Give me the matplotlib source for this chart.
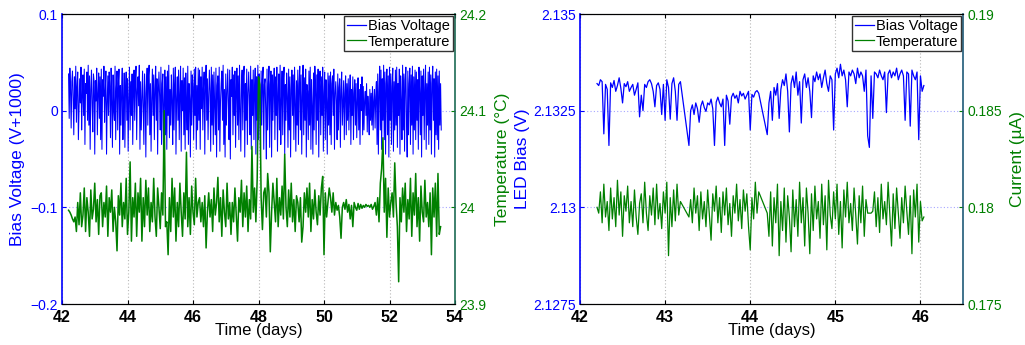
import numpy as np
import matplotlib
matplotlib.use("Agg")
import matplotlib.pyplot as plt
from matplotlib.lines import Line2D

plt.rcParams['font.family'] = ['Liberation Sans', 'DejaVu Sans']

# ---------------- Left panel data ----------------
# sampling of the left-panel record (days)
left_start = 42.2
bias_step = 0.02
temp_step = 0.04
# bias voltage, units of mV (V+1000)
bias_left_mV = [
    38,-8,44,22,-18,30,41,12,-25,35,2,46,-12,25,40,-30,0,33,8,45,-20,15,37,-5,43,
    -35,28,18,40,-10,47,-15,36,-40,22,42,5,-22,38,30,-45,31,10,44,-25,18,39,-8,35,-30,
    43,-40,32,15,46,-12,20,41,-45,8,36,-5,40,25,-28,44,10,-38,37,0,-10,46,-30,23,41,
    -20,28,43,-45,26,-15,18,44,-30,10,39,-38,22,40,-10,33,-42,12,45,-20,30,-5,38,-35,18,
    42,-10,32,46,-30,20,35,5,47,-40,30,-20,10,41,0,-35,38,18,-48,27,44,-15,36,47,-25,
    28,-42,12,43,-5,37,-30,22,46,-10,33,-45,18,40,15,-20,45,-35,28,38,-48,8,42,-25,35,
    -40,41,-5,47,-28,22,-15,37,10,-35,44,-20,27,45,-45,13,35,-10,42,-30,18,46,-42,31,0,
    44,-25,34,-40,39,5,-20,46,-35,28,12,-48,41,-15,37,25,-30,43,-5,45,-40,26,-20,44,-10,
    42,-40,35,2,45,-20,24,40,-45,28,47,-10,33,-30,15,42,20,-42,45,-15,37,-35,40,5,-25,
    44,-48,26,36,-20,45,-42,10,28,41,-10,47,-35,22,-48,38,-15,18,43,10,-30,42,-50,32,15,
    45,-25,37,-5,41,-38,18,44,-15,36,-30,47,5,-42,27,42,-20,35,46,-48,28,-10,43,-35,18,
    40,15,-25,46,-40,32,-5,42,-30,22,44,-45,35,-10,47,-30,38,20,-48,41,-15,33,45,-40,27,
    33,0,-50,43,-20,28,46,-38,27,41,-48,37,-10,23,44,-30,35,-5,45,-42,18,38,-20,47,-35,
    10,41,-25,32,45,-45,27,-10,39,15,-38,43,-20,35,-48,22,42,-5,37,-30,45,10,-42,31,-15,
    42,-35,28,46,-20,37,-45,15,47,-25,34,-10,43,-48,27,20,-30,41,-15,45,-40,32,5,-45,39,
    -20,46,24,-35,37,-10,43,-48,28,41,-25,35,-5,45,-42,18,40,-30,32,10,-45,39,-15,36,-25,
    40,-35,28,36,-5,43,-40,18,30,10,-30,38,-20,24,33,-38,22,40,-15,10,31,-30,18,36,-25,
    28,-10,33,-20,15,37,-35,22,-5,35,-30,18,32,-15,28,-28,10,34,-20,22,-35,27,0,35,-25,
    25,-20,10,20,-5,28,-22,15,0,-25,22,-10,18,-15,25,-20,10,22,-18,15,
    30,-35,38,-45,20,46,-20,42,-40,33,-10,47,-30,40,-45,28,43,-25,36,-48,45,-10,38,-35,25,44,-42,30,-20,42,
    -15,45,-38,28,-5,43,-45,36,10,-30,47,-20,38,-42,32,45,-10,-48,41,-25,28,44,-35,37,-15,
    46,-45,35,-20,42,-30,40,-10,32,-40,45,20,-25,41,-48,36,-5,43,-30,23,47,-40,28,-15,40,
    -35,45,-20,37,-45,28,46,-10,33,-48,40,-25,43,-30,36,-40,41,-15,28,-20,
]
# temperature, units of mK relative to 24 degC
temp_left_mK = [
    -3,-5,-8,-12,-15,-10,-25,5,-18,15,-20,-8,20,-25,10,-5,-30,18,-12,-2,25,-15,8,-28,12,
    15,-20,5,-10,22,-30,10,-5,18,-25,0,-15,-45,12,-8,25,-20,5,-12,30,-28,-5,47,-35,10,
    -10,25,-30,15,-5,30,-35,10,-20,28,-8,20,-25,5,-15,30,-10,-30,20,0,-22,15,-8,100,-20,
    -15,-49,10,-25,30,-10,20,-35,5,-20,25,-5,-30,15,-12,57,-20,10,-28,22,-5,-18,30,-10,5,
    10,-15,5,-20,12,-42,-5,15,-10,8,-25,20,-8,5,31,-15,10,-30,18,-5,-20,25,-12,5,-28,
    5,-15,20,-8,-35,10,-5,28,-20,15,-10,22,-25,8,-12,63,-5,20,-15,30,135,127,10,-23,15,
    20,-10,35,15,-46,-5,25,5,-15,30,-20,10,-8,22,-12,55,0,-20,18,-10,25,-15,8,-25,12,
    5,-15,10,-36,-20,15,-5,20,-10,25,-25,8,-12,18,-5,-18,12,-8,20,32,-49,15,-10,5,20,
    10,-5,15,-8,5,-3,2,-10,-32,0,5,-2,8,-5,3,-12,2,-20,5,0,-3,4,-2,3,-1,
    2,0,3,1,2,0,3,-2,1,5,-8,10,-15,25,40,72,-5,30,-31,20,-10,5,15,-10,46,
    5,-20,-77,10,-15,20,-5,25,-25,8,-12,30,-30,15,-8,35,-20,10,-35,22,-5,-15,28,-10,5,
    -20,15,-49,20,-10,25,-30,35,-28,-20,
]

# ---------------- Right panel data ----------------
# recording segments (start day, end day) with 0.02-day sampling
right_segments = [(42.20, 43.18), (43.28, 44.10), (44.20, 46.04)]
right_step = 0.02
# LED bias, units of 10 uV above 2.13 V
led_bias_10uV = [
    320,315,330,325,190,318,305,160,322,310,
    328,300,315,335,308,270,320,312,325,300,
    310,318,290,305,322,234,290,250,318,310,
    325,330,320,300,260,315,322,305,240,318,
    225,330,310,228,320,335,300,225,318,325,
    160,250,265,240,270,255,220,262,275,258,
    248,270,265,280,255,160,272,285,270,260,
    280,160,290,275,215,285,295,282,290,270,
    300,288,295,280,290,300,200,292,285,298,
    302,295,
    188,270,300,225,310,290,320,230,305,330,
    315,345,300,195,320,340,310,350,290,325,
    218,330,345,310,335,300,232,340,325,350,
    330,345,310,335,355,320,300,340,330,200,
    345,360,335,370,340,355,330,260,350,340,
    355,345,320,360,335,350,340,300,355,185,
    155,340,230,350,345,335,355,340,330,350,
    245,345,355,335,350,340,360,330,345,355,
    340,225,350,345,210,355,340,330,350,175,
    340,300,315,
]
# current, units of 0.1 nA relative to 0.18 uA
current_01nA = [
    0,-3,8,-8,12,-5,3,-12,10,-6,
    5,-10,14,-4,8,-15,6,-2,11,-8,
    3,-10,9,-5,-14,2,7,-8,13,-3,
    -12,6,-4,10,-9,12,-6,2,-11,8,
    -3,13,-25,5,-10,9,-7,12,-4,3,
    -5,4,-8,10,-3,6,-12,8,-6,3,
    -10,9,-4,-17,7,-2,11,-8,5,-13,
    8,-4,10,-9,2,-15,6,-3,12,-7,
    4,-11,9,-2,7,-10,-22,5,-6,13,
    -3,8,
    -3,-15,8,-20,5,-8,12,-25,3,-12,
    10,-18,6,-5,-23,9,-10,4,-15,13,
    -8,5,-20,10,-3,-24,7,-12,11,-6,
    3,-16,12,-9,6,-22,14,-4,-11,8,
    -6,12,-14,3,-21,9,-5,13,-8,2,
    -12,10,-4,-19,6,-8,11,-15,4,-3,
    -3,-3,-2,8,-10,5,-13,12,-6,3,
    -9,13,-4,-20,7,-11,10,-3,-16,5,
    -8,11,-2,-14,6,-24,9,-5,12,-18,
    3,-7,-5,
]

legend_labels = ["Bias Voltage", "Temperature"]

# ---------------- derived arrays ----------------
t_bias = left_start + bias_step * np.arange(len(bias_left_mV))
t_temp = left_start + temp_step * np.arange(len(temp_left_mK))
bias_left = np.array(bias_left_mV) / 1000.0
temp_left = 24.0 + np.array(temp_left_mK) / 1000.0

t_right = np.concatenate([np.arange(a, b + right_step / 2, right_step) for a, b in right_segments])
led_bias = 2.13 + np.array(led_bias_10uV) * 1e-5
current = 0.18 + np.array(current_01nA) * 1e-4

BLUE = (0, 0, 1)
GREEN = (0, 0.5, 0)

fig = plt.figure(figsize=(10.25, 3.45), dpi=100)


def make_panel(rect, t1, y1, t2, y2, xlim, xticks, ylim1, yticks1, ylim2, yticks2,
               ylab1, ylab2, yfmt1, yfmt2, right_spine_color, lw1, lw2, lpad1, lpad2):
    ax = fig.add_axes(rect)
    ax2 = ax.twinx()
    ax.plot(t1, y1, color=BLUE, lw=lw1)
    ax2.plot(t2, y2, color=GREEN, lw=lw2)
    ax.set_xlim(*xlim)
    ax.set_ylim(*ylim1)
    ax2.set_ylim(*ylim2)
    ax.set_xticks(xticks)
    ax.set_yticks(yticks1)
    ax2.set_yticks(yticks2)
    ax.set_yticklabels([yfmt1(v) for v in yticks1])
    ax2.set_yticklabels([yfmt2(v) for v in yticks2])
    ax.set_xticklabels([str(v) for v in xticks], fontweight='bold', fontsize=11.5)
    # grid
    for xv in xticks:
        ax.axvline(xv, color=(0.72, 0.72, 0.72), ls=(0, (1, 2)), lw=0.8, zorder=0)
    for yv in yticks1:
        ax.axhline(yv, color=(0.65, 0.65, 1.0), ls=(0, (1, 2)), lw=0.8, zorder=0)
    ax.tick_params(axis='x', direction='in', length=3, colors='black', pad=4, top=True)
    ax.tick_params(axis='y', direction='in', length=3, colors=BLUE, labelsize=10, pad=3)
    ax2.tick_params(axis='y', direction='in', length=3, colors=GREEN, labelsize=10, pad=3)
    ax.spines['left'].set_color(BLUE)
    ax.spines['left'].set_linewidth(1.2)
    ax.spines['right'].set_visible(False)
    ax2.spines['left'].set_visible(False)
    ax2.spines['right'].set_color(right_spine_color)
    ax2.spines['right'].set_linewidth(1.2)
    for a in (ax, ax2):
        a.spines['top'].set_color('black')
        a.spines['bottom'].set_color('black')
    ax.set_ylabel(ylab1, color=BLUE, fontsize=12.5, labelpad=lpad1)
    ax2.set_ylabel(ylab2, color=GREEN, fontsize=12.5, labelpad=lpad2)
    ax.set_xlabel("Time (days)", fontsize=12, labelpad=-1)
    handles = [Line2D([], [], color=BLUE, lw=0.9), Line2D([], [], color=GREEN, lw=0.9)]
    leg = ax2.legend(handles, legend_labels, loc='upper right', fontsize=10.5,
                     frameon=True, fancybox=False, borderaxespad=0.15,
                     handlelength=1.3, handletextpad=0.1, borderpad=0.2,
                     labelspacing=0.1)
    leg.get_frame().set_edgecolor('black')
    leg.get_frame().set_linewidth(1.0)
    return ax, ax2


make_panel([62 / 1025, 1 - 304 / 345, (455 - 62) / 1025, 290 / 345],
           t_bias, bias_left, t_temp, temp_left,
           (42, 54), [42, 44, 46, 48, 50, 52, 54],
           (-0.2, 0.1), [-0.2, -0.1, 0, 0.1],
           (23.9, 24.2), [23.9, 24.0, 24.1, 24.2],
           "Bias Voltage (V+1000)", "Temperature (°C)",
           lambda v: "0" if abs(v) < 1e-9 else ("\u22120.%d" % round(abs(v) * 10) if v < 0 else "0.%d" % round(v * 10)),
           lambda v: ("%g" % round(v, 1)),
           '#1d6b55', 0.75, 1.1, 4, 6)

make_panel([580 / 1025, 1 - 304 / 345, (963 - 580) / 1025, 290 / 345],
           t_right, led_bias, t_right, current,
           (42, 46.5), [42, 43, 44, 45, 46],
           (2.1275, 2.135), [2.1275, 2.13, 2.1325, 2.135],
           (0.175, 0.19), [0.175, 0.18, 0.185, 0.19],
           "LED Bias (V)", "Current (\u00b5A)",
           lambda v: "%g" % round(v, 4),
           lambda v: "%g" % round(v, 3),
           '#1f5a78', 0.9, 0.9, 2, 6)

fig.savefig("out.png", dpi=100)
